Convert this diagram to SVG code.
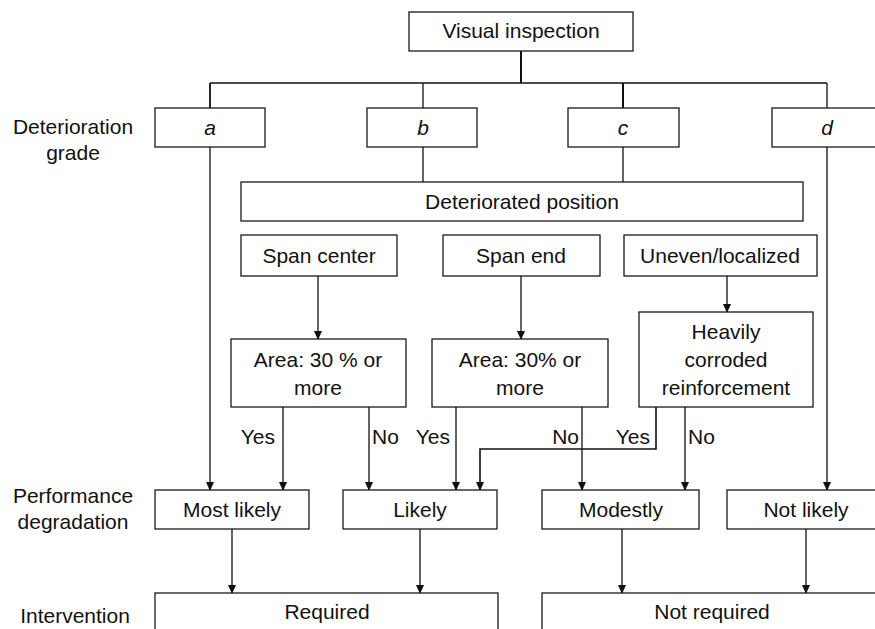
<svg xmlns="http://www.w3.org/2000/svg" width="875" height="629" viewBox="0 0 875 629">
<defs>
<style>
.box{fill:#fff;stroke:#1a1a1a;stroke-width:1.3}
.t{font-family:"Liberation Sans",Arial,sans-serif;font-size:21px;fill:#111;text-anchor:middle}
.l{font-family:"Liberation Sans",Arial,sans-serif;font-size:21px;fill:#111}
.i{font-style:italic}
.c{fill:none;stroke:#111;stroke-width:1.3}
</style>
<marker id="ah" markerWidth="10" markerHeight="10" refX="8" refY="4" orient="auto" markerUnits="userSpaceOnUse" viewBox="0 0 10 8">
<path d="M0,0 L9,4 L0,8 z" fill="#111"/>
</marker>
</defs>
<rect width="875" height="629" fill="#fff"/>
<g id="side-labels">
<text class="t" x="73" y="134">Deterioration</text>
<text class="t" x="73" y="160">grade</text>
<text class="t" x="73" y="503">Performance</text>
<text class="t" x="73" y="529">degradation</text>
<text class="t" x="75" y="623">Intervention</text>
</g>
<g id="connectors">
<path class="c" d="M521,51 V83" style="stroke-width:2"/>
<path class="c" d="M210,83 H827"/>
<path class="c" d="M210,83 V108" style="stroke-width:1.8"/>
<path class="c" d="M423,83 V108"/>
<path class="c" d="M623,83 V108" style="stroke-width:2"/>
<path class="c" d="M827,83 V108"/>
<path class="c" d="M423,147 V182"/>
<path class="c" d="M623,147 V182"/>
<path class="c" d="M210,147 V490" marker-end="url(#ah)"/>
<path class="c" d="M827,147 V490" marker-end="url(#ah)"/>
<path class="c" d="M318,276 V339" marker-end="url(#ah)"/>
<path class="c" d="M521,276 V339" marker-end="url(#ah)"/>
<path class="c" d="M727,276 V312" marker-end="url(#ah)"/>
<path class="c" d="M283,407 V490" marker-end="url(#ah)"/>
<path class="c" d="M369,407 V490" marker-end="url(#ah)"/>
<path class="c" d="M456,407 V490" marker-end="url(#ah)"/>
<path class="c" d="M582,407 V490" marker-end="url(#ah)"/>
<path class="c" d="M656,407 V449 H480 V490" marker-end="url(#ah)" style="stroke-width:1.6"/>
<path class="c" d="M685,407 V490" marker-end="url(#ah)"/>
<path class="c" d="M232,529 V593" marker-end="url(#ah)"/>
<path class="c" d="M420,529 V593" marker-end="url(#ah)"/>
<path class="c" d="M622,529 V593" marker-end="url(#ah)"/>
<path class="c" d="M806,529 V593" marker-end="url(#ah)"/>
<text class="l" x="275" y="444" text-anchor="end">Yes</text>
<text class="l" x="372" y="444">No</text>
<text class="l" x="450" y="444" text-anchor="end">Yes</text>
<text class="l" x="579" y="444" text-anchor="end">No</text>
<text class="l" x="650" y="444" text-anchor="end">Yes</text>
<text class="l" x="688" y="444">No</text>
</g>
<g id="visual-inspection">
<rect class="box" x="409" y="12" width="224" height="39"/>
<text class="t" x="521" y="38">Visual inspection</text>
</g>
<g id="grade-a">
<rect class="box" x="155" y="108" width="110" height="39"/>
<text class="t i" x="210" y="135">a</text>
</g>
<g id="grade-b">
<rect class="box" x="367" y="108" width="110" height="39"/>
<text class="t i" x="423" y="135">b</text>
</g>
<g id="grade-c">
<rect class="box" x="568" y="108" width="111" height="39"/>
<text class="t i" x="623" y="135">c</text>
</g>
<g id="grade-d">
<rect class="box" x="772" y="108" width="115" height="39"/>
<text class="t i" x="827" y="135">d</text>
</g>
<g id="deteriorated-position">
<rect class="box" x="241" y="182" width="562" height="39"/>
<text class="t" x="522" y="209">Deteriorated position</text>
</g>
<g id="span-center">
<rect class="box" x="241" y="235" width="156" height="41"/>
<text class="t" x="319" y="263">Span center</text>
</g>
<g id="span-end">
<rect class="box" x="443" y="235" width="157" height="41"/>
<text class="t" x="521" y="263">Span end</text>
</g>
<g id="uneven-localized">
<rect class="box" x="624" y="235" width="193" height="41"/>
<text class="t" x="720" y="263">Uneven/localized</text>
</g>
<g id="area-1">
<rect class="box" x="231" y="339" width="175" height="68"/>
<text class="t" x="318" y="367">Area: 30 % or</text>
<text class="t" x="318" y="395">more</text>
</g>
<g id="area-2">
<rect class="box" x="432" y="339" width="176" height="68"/>
<text class="t" x="520" y="367">Area: 30% or</text>
<text class="t" x="520" y="395">more</text>
</g>
<g id="heavily-corroded">
<rect class="box" x="639" y="312" width="174" height="95"/>
<text class="t" x="726" y="339">Heavily</text>
<text class="t" x="726" y="367">corroded</text>
<text class="t" x="726" y="395">reinforcement</text>
</g>
<g id="most-likely">
<rect class="box" x="155" y="490" width="154" height="39"/>
<text class="t" x="232" y="517">Most likely</text>
</g>
<g id="likely">
<rect class="box" x="343" y="490" width="154" height="39"/>
<text class="t" x="420" y="517">Likely</text>
</g>
<g id="modestly">
<rect class="box" x="542" y="490" width="157" height="39"/>
<text class="t" x="621" y="517">Modestly</text>
</g>
<g id="not-likely">
<rect class="box" x="727" y="490" width="160" height="39"/>
<text class="t" x="806" y="517">Not likely</text>
</g>
<g id="required">
<rect class="box" x="155" y="593" width="343" height="50"/>
<text class="t" x="327" y="619">Required</text>
</g>
<g id="not-required">
<rect class="box" x="542" y="593" width="345" height="50"/>
<text class="t" x="712" y="619">Not required</text>
</g>
</svg>
